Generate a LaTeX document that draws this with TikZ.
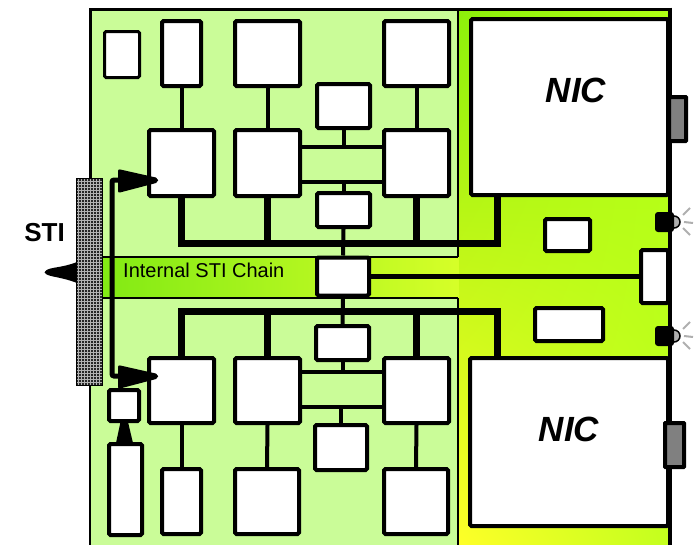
\documentclass[tikz,border=0pt]{standalone}
\usepackage{fontspec}
\setmainfont{Liberation Sans}
\usetikzlibrary{patterns,shadings}
\definecolor{lgreen}{RGB}{202,252,152}
\definecolor{bgreen}{RGB}{130,234,20}
\definecolor{byel}{RGB}{214,255,40}
\definecolor{rgul}{RGB}{140,240,10}
\definecolor{rgur}{RGB}{175,255,20}
\definecolor{rgll}{RGB}{255,255,40}
\definecolor{rglr}{RGB}{195,255,30}
\definecolor{plug}{RGB}{128,128,128}
\definecolor{ray}{RGB}{175,175,175}
\tikzset{
  bx/.style 2 args={draw, fill=white, line width=4pt, rounded corners=1.5pt,
    inner sep=0pt, minimum width=#1pt, minimum height=#2pt},
  link/.style={line width=4pt},
  bus/.style={line width=7pt, line join=miter},
  panel/.style={fill=lgreen, draw=black, line width=1.5pt},
  lbl/.style={inner sep=0pt, text=black},
}
\begin{document}
\begin{tikzpicture}[x=1pt,y=-1pt]
\useasboundingbox (0,0) rectangle (696,544);
% regions
\shade[upper left=rgul, upper right=rgur, lower left=rgll, lower right=rglr]
  (458,9) rectangle (670,545);
\filldraw[panel] (90,9) rectangle (458,257);
\filldraw[panel] (90,298) rectangle (458,546);
\shade[left color=bgreen, right color=byel] (102,257.75) rectangle (458.8,297.25);
\draw[line width=1.5pt] (102,257) -- (458,257) (102,298) -- (458,298);
% outer border
\draw[line width=3pt] (90,178) -- (90,9) -- (670,9);
\draw[line width=4pt] (670,7.5) -- (670,546);
% STI bar
\fill[black!85] (76,178) rectangle (102,385);
\fill[pattern=grid, pattern color=white!70!black] (76,178) rectangle (102,385);
\draw[line width=1pt] (76,178) rectangle (102,385);
% boxes top panel
\node[bx={35}{46}, line width=3pt] (A) at (122,54.5) {};
\node[bx={39}{65}] (B) at (181.5,53.5) {};
\node[bx={65}{65}] (C) at (267.5,53.5) {};
\node[bx={65}{65}] (D) at (416.5,53.5) {};
\node[bx={53}{44}] (E) at (343.5,106) {};
\node[bx={65}{66}] (F) at (181.5,163) {};
\node[bx={65}{66}] (G) at (267.5,163) {};
\node[bx={65}{66}] (H) at (416.5,163) {};
\node[bx={53}{34}] (I) at (343.5,210) {};
\node[bx={52}{38}] (Z) at (343,276.5) {};
% boxes bottom panel
\node[bx={53}{34}] (E2) at (342.5,343) {};
\node[bx={65}{65}] (F2) at (181.5,390.5) {};
\node[bx={65}{65}] (G2) at (267.5,390.5) {};
\node[bx={65}{65}] (H2) at (416.5,390.5) {};
\node[bx={52}{45}] (I2) at (341,447.5) {};
\node[bx={39}{65}] (B2) at (181.5,501.5) {};
\node[bx={64}{65}] (C2) at (267,501.5) {};
\node[bx={64}{65}] (D2) at (416,501.5) {};
\node[bx={30}{31}] (M) at (124,405.5) {};
\node[bx={33}{91}] (N) at (125.5,489.5) {};
% right side
\node[bx={197}{176}] (NIC1) at (569.5,107) {};
\node[bx={198}{168}] (NIC2) at (569,442) {};
\node[bx={45}{32}] (J) at (567.5,235) {};
\node[bx={27}{53}] (K) at (654.5,276.5) {};
\node[bx={68}{33}] (L) at (569,324.5) {};
\node[bx={17}{44}, fill=plug, rounded corners=0.5pt] (P1) at (677.5,119) {};
\node[bx={19}{44}, fill=plug, rounded corners=0.5pt] (P2) at (674.5,445) {};
% helper coordinates
\coordinate (hu1) at (0,147);
\coordinate (hu2) at (0,182);
\coordinate (hl1) at (0,372);
\coordinate (hl2) at (0,407);
\coordinate (t1) at (497,243);
\coordinate (t2) at (497,311);
\coordinate (s1) at (112,180);
\coordinate (s2) at (112,376);
% connectors top
\draw[link] (B.south) -- (F.north);
\draw[link] (C.south) -- (G.north);
\draw[link] (D.south) -- (H.north);
\draw[link] (E.south) -- (E.south |- hu1);
\draw[link] (G.east |- hu1) -- (H.west |- hu1);
\draw[link] (G.east |- hu2) -- (H.west |- hu2);
\draw[link] (I.north) -- (I.north |- hu2);
\draw[link] (I.south) -- (Z.north);
\draw[bus] (F.south) -- (F.south |- t1) -- (t1) -- (t1 |- NIC1.south);
\draw[bus] (G.south) -- (G.south |- t1);
\draw[bus] (H.south) -- (H.south |- t1);
% connectors bottom
\draw[link] (Z.south) -- (E2.north);
\draw[link] (E2.south) -- (E2.south |- hl1);
\draw[link] (G2.east |- hl1) -- (H2.west |- hl1);
\draw[link] (G2.east |- hl2) -- (H2.west |- hl2);
\draw[link] (I2.north) -- (I2.north |- hl2);
\draw[link] (F2.south) -- (B2.north);
\draw[link] (G2.south) -- (C2.north);
\draw[link] (H2.south) -- (D2.north);
\draw[bus] (F2.north) -- (F2.north |- t2) -- (t2) -- (t2 |- NIC2.north);
\draw[bus] (G2.north) -- (G2.north |- t2);
\draw[bus] (H2.north) -- (H2.north |- t2);
% chain link to connector
\draw[line width=4.5pt] (Z.east) -- (K.west |- Z.east);
% STI feed
\draw[line width=5pt, rounded corners=2pt] (120,180) -- (s1) -- (s2) -- (120,376);
\fill[rounded corners=2pt] (118,169) -- (158,178) -- (158,182.5) -- (118,193) -- cycle;
\fill[rounded corners=2pt] (118,365) -- (158,374) -- (158,378.5) -- (118,389) -- cycle;
% STI outward arrow
\fill (77,262) .. controls (62,268) and (50,267) .. (46,270.5)
  .. controls (44,272) and (44,273) .. (46,274)
  .. controls (50,277) and (62,277) .. (77,283) -- cycle;
% arrow N -> M
\fill (116,443) -- (120.5,422) -- (128,422) -- (133,443) -- cycle;
% LEDs
\foreach \yy in {222,336}{
  \filldraw[fill=ray, draw=black, line width=1.5pt] (674,\yy) circle (6);
  \fill[rounded corners=3pt] (655,\yy-10) rectangle (674,\yy+10);
  \draw[ray, line width=2pt] (683,\yy-7) -- (690,\yy-14);
  \draw[ray, line width=2pt] (684,\yy) -- (693,\yy+1);
  \draw[ray, line width=2pt] (683,\yy+6) -- (690,\yy+13);
}
% texts
\node[lbl, font=\bfseries\fontsize{26}{26}\selectfont] (sti) at (44.5,233) {STI};
\node[lbl, anchor=base west, font=\fontsize{20}{20}\selectfont] (chain) at (123,277) {Internal STI Chain};
\node[lbl, font=\bfseries\itshape\fontsize{35}{35}\selectfont] (n1) at (576,90) {NIC};
\node[lbl, font=\bfseries\itshape\fontsize{35}{35}\selectfont] (n2) at (569,429.5) {NIC};
\end{tikzpicture}
\end{document}
